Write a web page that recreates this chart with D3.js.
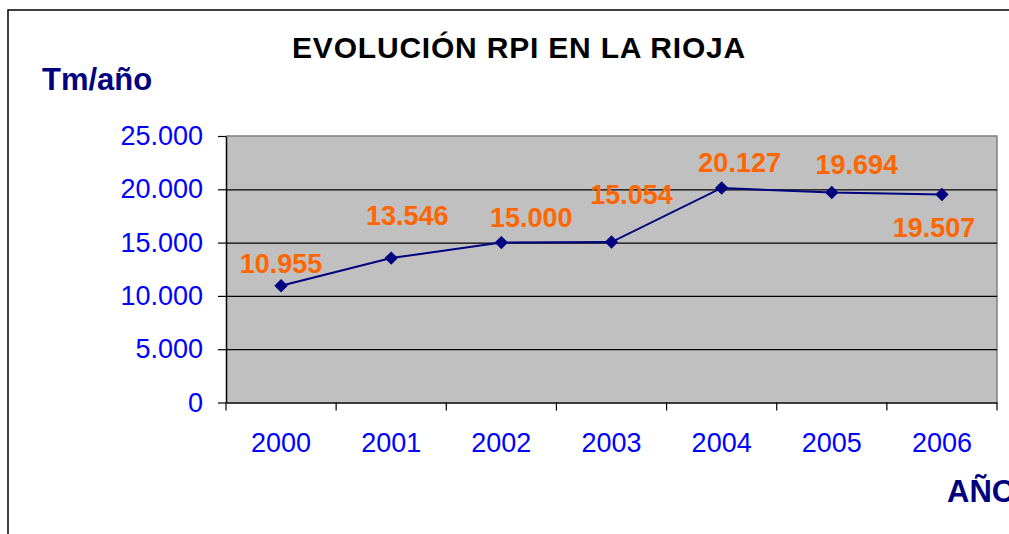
<!DOCTYPE html>
<html>
<head>
<meta charset="utf-8">
<script src="https://cdn.jsdelivr.net/npm/d3@7"></script>
<style>
  html, body { margin: 0; padding: 0; background: #fff; }
  svg { display: block; font-family: "Liberation Sans", Arial, sans-serif; }
</style>
</head>
<body>
<svg id="chart" width="1009" height="534"></svg>
<script>
// chart data
const years = ['2000', '2001', '2002', '2003', '2004', '2005', '2006'];
const rpi = [10955, 13546, 15000, 15054, 20127, 19694, 19507];
const yTicks = [0, 5000, 10000, 15000, 20000, 25000];

// label offsets from each point (dx, baseline dy)
const labelOffsets = [[0, -13], [16, -33], [30, -16], [20, -38], [18, -16], [25, -19], [-8, 42]];

const svgWidth = 1009, svgHeight = 534;
const plot = { left: 226, right: 997, top: 136, bottom: 402.5 };

const es = d3.formatLocale({ decimal: ',', thousands: '.', grouping: [3], currency: ['', ' €'] });
const fmt = es.format(',d');

const svg = d3.select('#chart');

// outer frame (only top and left visible)
svg.append('rect')
    .attr('x', 8).attr('y', 10)
    .attr('width', 1100).attr('height', 600)
    .attr('fill', 'none')
    .attr('stroke', '#000')
    .attr('stroke-width', 1.5);

const x = d3.scaleBand()
    .domain(years)
    .range([plot.left, plot.right])
    .padding(0);

const y = d3.scaleLinear()
    .domain([0, 25000])
    .range([plot.bottom, plot.top]);

// plot area
svg.append('rect')
    .attr('x', plot.left).attr('y', plot.top)
    .attr('width', plot.right - plot.left)
    .attr('height', plot.bottom - plot.top)
    .attr('fill', '#c0c0c0');

// border top/right
svg.append('path')
    .attr('d', `M${plot.left},${plot.top}H${plot.right}V${plot.bottom}`)
    .attr('fill', 'none')
    .attr('stroke', '#808080')
    .attr('stroke-width', 1.5);

// gridlines
svg.append('g')
    .attr('transform', 'translate(' + plot.left + ',0)')
    .call(d3.axisLeft(y).tickValues(yTicks.slice(1, -1)).tickSize(-(plot.right - plot.left)).tickFormat(''))
    .call(g => g.select('.domain').remove())
    .call(g => g.selectAll('line').attr('stroke', '#000').attr('stroke-width', 1.2));

// y axis
svg.append('g')
    .attr('transform', 'translate(' + plot.left + ',0)')
    .call(d3.axisLeft(y).tickValues(yTicks).tickSize(8).tickSizeOuter(0).tickPadding(15).tickFormat(fmt))
    .call(g => g.select('.domain').attr('stroke', '#000').attr('stroke-width', 1.5))
    .call(g => g.selectAll('line').attr('stroke', '#000').attr('stroke-width', 1.2))
    .call(g => g.selectAll('text')
        .attr('fill', '#0000ff')
        .attr('font-size', 27)
        .attr('font-family', '"Liberation Sans", Arial, sans-serif'));

// x axis
svg.append('g')
    .attr('transform', 'translate(0,' + plot.bottom + ')')
    .call(d3.axisBottom(x).tickSize(0).tickSizeOuter(0).tickPadding(49))
    .call(g => g.select('.domain').attr('stroke', '#000').attr('stroke-width', 1.5))
    .call(g => g.selectAll('text')
        .attr('fill', '#0000ff')
        .attr('font-size', 27)
        .attr('dy', null)
        .attr('font-family', '"Liberation Sans", Arial, sans-serif'));

// category boundary ticks
const bounds = years.map(d => x(d)).concat([x.range()[1]]);
svg.append('g')
    .selectAll('line')
    .data(bounds)
    .join('line')
    .attr('x1', d => d).attr('x2', d => d)
    .attr('y1', plot.bottom).attr('y2', plot.bottom + 8)
    .attr('stroke', '#000')
    .attr('stroke-width', 1.2);

// series line
const pts = years.map((d, i) => ({ year: d, value: rpi[i], off: labelOffsets[i] }));
const cx = d => x(d.year) + x.bandwidth() / 2;

const line = d3.line()
    .x(cx)
    .y(d => y(d.value));

svg.append('path')
    .datum(pts)
    .attr('d', line)
    .attr('fill', 'none')
    .attr('stroke', '#000080')
    .attr('stroke-width', 2);

svg.append('g')
    .selectAll('path')
    .data(pts)
    .join('path')
    .attr('d', d3.symbol(d3.symbolSquare, 90))
    .attr('transform', d => 'translate(' + cx(d) + ',' + y(d.value) + ') rotate(45)')
    .attr('fill', '#000080');

// data labels
svg.append('g')
    .selectAll('text')
    .data(pts)
    .join('text')
    .attr('x', d => cx(d) + d.off[0])
    .attr('y', d => y(d.value) + d.off[1])
    .attr('text-anchor', 'middle')
    .attr('font-size', 27)
    .attr('font-weight', 'bold')
    .attr('fill', '#ff6600')
    .text(d => fmt(d.value));

// titles
svg.append('text')
    .attr('x', 519).attr('y', 58)
    .attr('text-anchor', 'middle')
    .attr('font-size', 30)
    .attr('font-weight', 'bold')
    .attr('letter-spacing', 0.8)
    .attr('fill', '#000')
    .text('EVOLUCIÓN RPI EN LA RIOJA');

svg.append('text')
    .attr('x', 42).attr('y', 90)
    .attr('font-size', 31)
    .attr('font-weight', 'bold')
    .attr('fill', '#000080')
    .text('Tm/año');

svg.append('text')
    .attr('x', 947).attr('y', 502)
    .attr('font-size', 31)
    .attr('font-weight', 'bold')
    .attr('fill', '#000080')
    .text('AÑO');
</script>
</body>
</html>
